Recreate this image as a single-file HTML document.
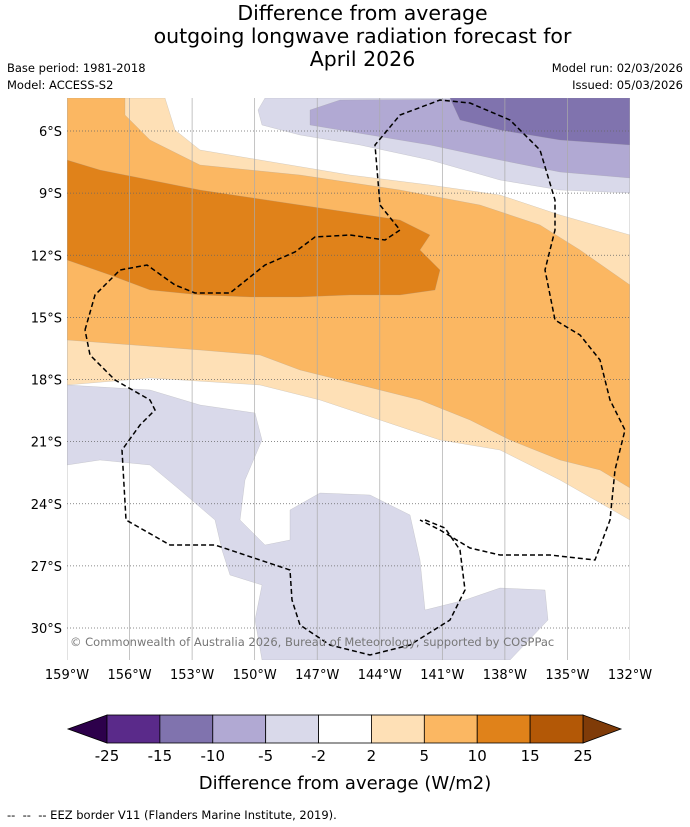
<!DOCTYPE html>
<html><head><meta charset="utf-8">
<style>
html,body{margin:0;padding:0;background:#fff;}
body{width:690px;height:827px;position:relative;overflow:hidden;font-family:"DejaVu Sans","Liberation Sans",sans-serif;color:#000;}
.t{position:absolute;white-space:nowrap;}
svg text{font-family:"DejaVu Sans","Liberation Sans",sans-serif;}
</style></head><body>
<div class="t" style="left:0;width:725px;top:2px;text-align:center;font-size:20.5px;line-height:23px;">Difference from average<br>outgoing longwave radiation forecast for<br>April 2026</div>
<div class="t" style="left:7px;top:61px;font-size:11.5px;">Base period: 1981-2018</div>
<div class="t" style="left:7px;top:78px;font-size:11.5px;">Model: ACCESS-S2</div>
<div class="t" style="right:7px;top:61px;font-size:11.5px;">Model run: 02/03/2026</div>
<div class="t" style="right:7px;top:78px;font-size:11.5px;">Issued: 05/03/2026</div>
<svg id="chart" width="690" height="827" style="position:absolute;left:0;top:0" xmlns="http://www.w3.org/2000/svg"></svg>
<div class="t" style="left:7px;top:808px;font-size:11.5px;">--&nbsp; --&nbsp; -- EEZ border V11 (Flanders Marine Institute, 2019).</div>
<script>
const lonTicks=[159,156,153,150,147,144,141,138,135,132];
const latTicks=[6,9,12,15,18,21,24,27,30];
const levels=[-25,-15,-10,-5,-2,2,5,10,15,25];
const binColors=["#5a2a8a","#8073ae","#b1a9d3","#d9d9ea","#ffffff","#fee0b6","#fbb762","#e0821a","#b35806"];
const extLow="#2d004b", extHigh="#7f3b08";
const svg=document.getElementById('chart');
const NS="http://www.w3.org/2000/svg";
const X0=67,X1=630,Y0=98,Y1=660;
function xLon(l){return X0+(159-l)*(X1-X0)/27;}
function yLat(l){return 131+(l-6)*(628-131)/24;}
function mk(t,a,p){const e=document.createElementNS(NS,t);for(const k in a)e.setAttribute(k,a[k]);(p||svg).appendChild(e);return e;}
const clip=mk('clipPath',{id:'mapclip'});mk('rect',{x:X0,y:Y0,width:X1-X0,height:Y1-Y0},clip);
const g=mk('g',{'clip-path':'url(#mapclip)'});


function poly(pts,fill,name){const e=mk('polygon',{points:pts,fill:fill,stroke:'#999',"stroke-width":0.4,"stroke-opacity":0.5},g);}
poly("67,98 165,98 175,130 200,150 260,160 350,175 430,185 500,195 560,215 630,235 630,520 560,480 500,450 440,440 380,420 320,400 260,385 150,378 67,385","#fee0b6","contour-2-5");
poly("67,98 125,98 125,115 150,140 200,165 300,175 400,190 480,205 540,225 580,250 630,285 630,488 600,470 560,460 510,440 470,420 420,400 360,385 300,370 260,355 200,350 67,340","#fbb762","contour-5-10");
poly("67,160 100,170 200,190 300,205 400,220 430,235 420,250 440,270 435,290 400,295 350,295 300,297 250,297 200,295 150,290 110,275 67,260","#e0821a","contour-10-15");
poly("265,98 630,98 630,193 560,190 500,180 430,160 360,145 300,135 262,125 258,110","#d9d9ea","contour-neg2-neg5-top");
poly("310,110 340,100 630,98 630,178 560,172 500,160 430,145 370,135 310,125","#b1a9d3","contour-neg5-neg10");
poly("450,98 630,98 630,145 560,140 500,130 460,120","#8073ae","contour-neg10-neg15");
poly("67,385 150,390 200,405 255,413 262,440 245,480 240,520 265,545 290,540 290,510 320,493 370,495 410,515 420,560 425,610 465,600 500,588 545,590 548,620 510,660 262,660 255,620 262,585 230,575 222,550 215,520 180,490 150,465 100,460 67,465","#d9d9ea","contour-neg2-neg5-bottom");
lonTicks.forEach(l=>{const e=mk('line',{x1:xLon(l),x2:xLon(l),y1:Y0,y2:Y1,stroke:'#aaa','stroke-width':0.7},g);});
latTicks.forEach(l=>{const e=mk('line',{x1:X0,x2:X1,y1:yLat(l),y2:yLat(l),stroke:'#666','stroke-width':0.7,'stroke-dasharray':'1,2'},g);});
const eez=mk('path',{d:"M85,330 L95,295 120,270 147,265 175,285 195,293 230,293 265,265 295,252 315,237 350,235 385,240 400,230 380,205 375,145 400,115 440,100 470,103 510,120 540,150 555,200 555,230 545,270 555,320 580,335 600,360 610,400 625,430 615,470 610,520 595,560 550,555 500,555 470,548 440,530 420,520 M425,520 L445,528 460,550 465,590 450,620 410,645 370,655 330,645 300,625 292,600 290,570 260,560 215,545 170,545 126,520 122,450 140,425 155,410 150,400 115,380 90,355 85,330",fill:'none',stroke:'#000','stroke-width':1.5,'stroke-dasharray':'5,3'},g);


const cp=mk('text',{x:70,y:646,'font-size':11.5,fill:'#777'},g);cp.textContent="© Commonwealth of Australia 2026, Bureau of Meteorology, supported by COSPPac";


lonTicks.forEach(l=>{const e=mk('text',{x:xLon(l),y:679,'font-size':13,'text-anchor':'middle'});e.textContent=l+"°W";});
latTicks.forEach(l=>{const e=mk('text',{x:62,y:yLat(l)+5,'font-size':13,'text-anchor':'end'});e.textContent=l+"°S";});
const cbL=107,cbR=583,cbT=715,cbB=743;
function xc(i){return cbL+i*(cbR-cbL)/(levels.length-1);}
const lo=mk('polygon',{points:`${cbL},${cbT} 68,${(cbT+cbB)/2} ${cbL},${cbB}`,fill:extLow,stroke:'#000','stroke-width':0.8});

const hi=mk('polygon',{points:`${cbR},${cbT} 621,${(cbT+cbB)/2} ${cbR},${cbB}`,fill:extHigh,stroke:'#000','stroke-width':0.8});

binColors.forEach((c,i)=>{const e=mk('rect',{x:xc(i),y:cbT,width:xc(i+1)-xc(i),height:cbB-cbT,fill:c,stroke:'#000','stroke-width':0.8});});
levels.forEach((v,i)=>{const e=mk('text',{x:xc(i),y:761,'font-size':15,'text-anchor':'middle'});e.textContent=v;});
const cl=mk('text',{x:345,y:789,'font-size':18,'text-anchor':'middle'});cl.textContent="Difference from average (W/m2)";

</script>
</body></html>
